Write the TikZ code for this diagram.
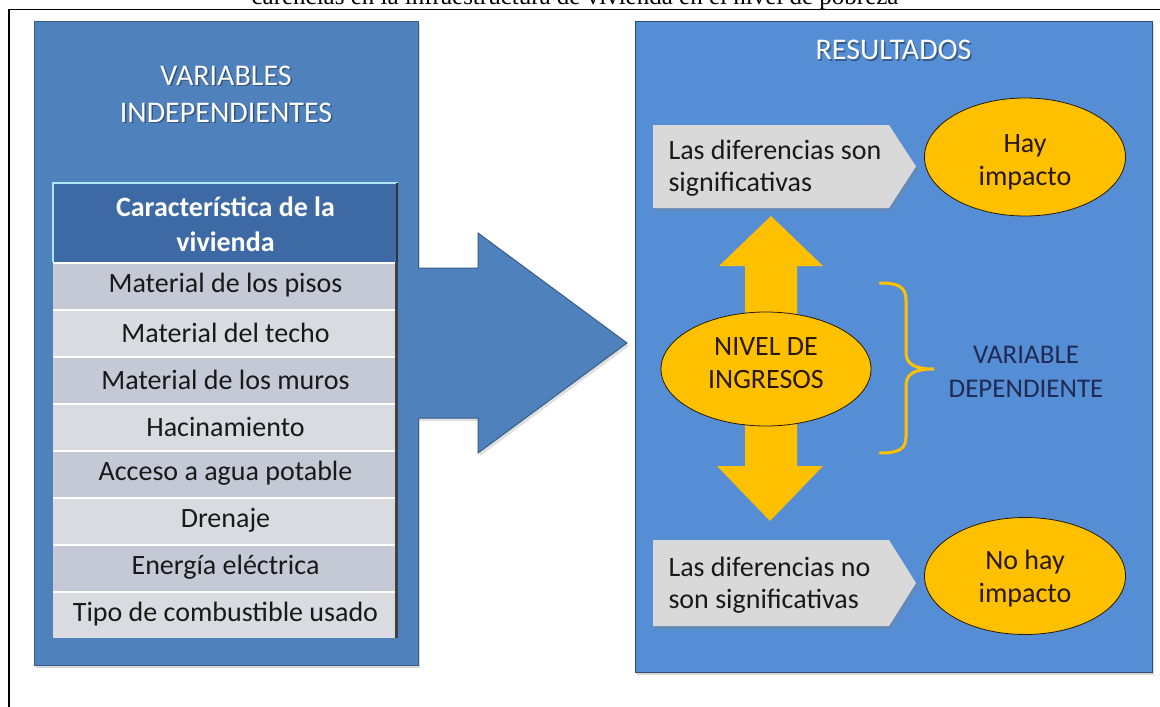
\documentclass[tikz,border=0pt]{standalone}
\usepackage{fontspec}
\setmainfont{Carlito}
\newfontfamily\titlefont{Liberation Serif}
\usetikzlibrary{shapes.geometric,shadows}
\definecolor{panelL}{RGB}{79,129,189}
\definecolor{panelLd}{RGB}{56,93,138}
\definecolor{panelR}{RGB}{85,142,213}
\definecolor{panelRd}{RGB}{47,75,112}
\definecolor{hdr}{RGB}{61,106,165}
\definecolor{rowA}{RGB}{196,201,213}
\definecolor{rowB}{RGB}{217,219,224}
\definecolor{gold}{RGB}{255,192,0}
\definecolor{navy}{RGB}{31,42,85}
\definecolor{pent}{RGB}{217,217,217}
\definecolor{ink}{RGB}{25,25,25}
\definecolor{brown}{RGB}{40,25,0}
\begin{document}
\begin{tikzpicture}[x=1pt,y=-1pt,
  panelshadow/.style={drop shadow={shadow xshift=2pt,shadow yshift=-3pt,opacity=0.3}},
  panelbox/.style={rectangle,inner sep=0pt,outer sep=0pt,anchor=north west,panelshadow},
  cellbox/.style={rectangle,inner sep=0pt,outer sep=0pt,anchor=north west,minimum width=345,text=ink,font=\fontsize{28}{32}\selectfont},
  wtitle/.style={text=white,align=center,font=\fontsize{30}{37}\selectfont},
  wshadow/.style={text=black,opacity=0.35,align=center,font=\fontsize{30}{37}\selectfont},
  btext/.style={text=ink,align=left,font=\fontsize{28}{32}\selectfont},
  oval/.style={ellipse,draw=brown,line width=0.8pt,fill=gold,inner sep=0pt},
  ovaltext/.style={text=brown,align=center,font=\fontsize{28}{33}\selectfont},
  pentshape/.style={fill=pent,drop shadow={shadow xshift=2pt,shadow yshift=-3pt,opacity=0.35}}
]
\useasboundingbox (0,0) rectangle (1160,707);
\fill[white] (0,0) rectangle (1160,707);

% partly cut title
\node[anchor=base,inner sep=0pt,font=\titlefont\fontsize{25}{29}\selectfont] (title) at (575,4)
  {carencias en la infraestructura de vivienda en el nivel de pobreza};

% frame
\draw[line width=1.3pt] (9,707) -- (9,9.5) -- (1160,9.5);

% left panel
\node[panelbox,draw=panelLd,line width=1pt,fill=panelL,minimum width=384,minimum height=644] (lpanel) at (34,21) {};
\node[wshadow] (vis) at (227.5,95.5) {VARIABLES\\INDEPENDIENTES};
\node[wtitle] (vi) at (226,94) {VARIABLES\\INDEPENDIENTES};

% table
\node[cellbox,fill=hdr,minimum height=79] (hd) at (53,183) {};
\node[text=white,align=center,font=\bfseries\fontsize{28}{35}\selectfont] (hdt) at (225.5,224.5) {Característica de la\\vivienda};
\draw[cyan!30!white,line width=1.5pt] (hd.south west) -- (hd.north west) -- (hd.north east);
\draw[black!80,line width=2pt] ([xshift=-1pt]hd.north east) -- ([xshift=-1pt]hd.south east);
\foreach \i/\t/\c in {1/Material de los pisos/rowA,2/Material del techo/rowB,3/Material de los muros/rowA,4/Hacinamiento/rowB,5/Acceso a agua potable/rowA,6/Drenaje/rowB,7/Energía eléctrica/rowA,8/Tipo de combustible usado/rowB}{
  \node[cellbox,fill=\c,minimum height=47] (r\i) at (53,{262+47*(\i-1)}) {\t};
  \draw[white,line width=2pt] ([yshift=-1pt]r\i.north west) -- ([yshift=-1pt]r\i.north east);
  \draw[black!75,line width=2.5pt] ([xshift=-1.5pt]r\i.north east) -- ([xshift=-1.5pt]r\i.south east);
}

% big arrow
\fill[panelL,drop shadow={shadow xshift=2pt,shadow yshift=-3pt,opacity=0.25}] (416,268) -- (478,268) -- (478,233) -- (627,343) -- (478,453) -- (478,418) -- (416,418) -- cycle;
\draw[panelLd,line width=1pt,line join=miter] (418,268) -- (478,268) -- (478,233) -- (627,343) -- (478,453) -- (478,418) -- (418,418);

% right panel
\node[panelbox,draw=panelRd,line width=1pt,fill=panelR,minimum width=517,minimum height=651] (rpanel) at (635,21) {};
\node[wshadow] (ress) at (895,51.5) {RESULTADOS};
\node[wtitle] (res) at (893.5,50) {RESULTADOS};

% double vertical arrow
\fill[gold] (771,216) -- (823,266) -- (797,266) -- (797,466) -- (823,466) -- (770,521) -- (717,466) -- (745,466) -- (745,266) -- (719,266) -- cycle;

% pentagons
\path[pentshape] (653,125) -- (889,125) -- (916,166.5) -- (889,208) -- (653,208) -- cycle;
\node[btext,anchor=west] (sig) at (665,168.5) {Las diferencias son\\significativas};
\path[pentshape] (653,540) -- (889,540) -- (916,583) -- (889,626) -- (653,626) -- cycle;
\node[btext,anchor=west] (nosig) at (665,585) {Las diferencias no\\son significativas};

% ellipses
\node[oval,minimum width=201,minimum height=118] (hay) at (1025,157) {};
\node[ovaltext] (hayt) at (1025,162) {Hay\\impacto};
\node[oval,minimum width=210,minimum height=114] (niv) at (766,369) {};
\node[ovaltext] (nivt) at (766,363) {NIVEL DE\\INGRESOS};
\node[oval,minimum width=201,minimum height=117] (nohay) at (1025,576) {};
\node[ovaltext] (nohayt) at (1025,579) {No hay\\impacto};

% brace
\draw[gold,line width=3pt,line cap=round] (880,283) .. controls (897,283) and (906,286) .. (906,300) -- (906,352) .. controls (906,364) and (914,369) .. (934,369) .. controls (914,369) and (906,374) .. (906,386) -- (906,437) .. controls (906,450) and (897,453) .. (880,453);
\node[text=navy,align=center,font=\fontsize{27}{34}\selectfont] (vd) at (1026,372) {VARIABLE\\DEPENDIENTE};
\end{tikzpicture}
\end{document}
